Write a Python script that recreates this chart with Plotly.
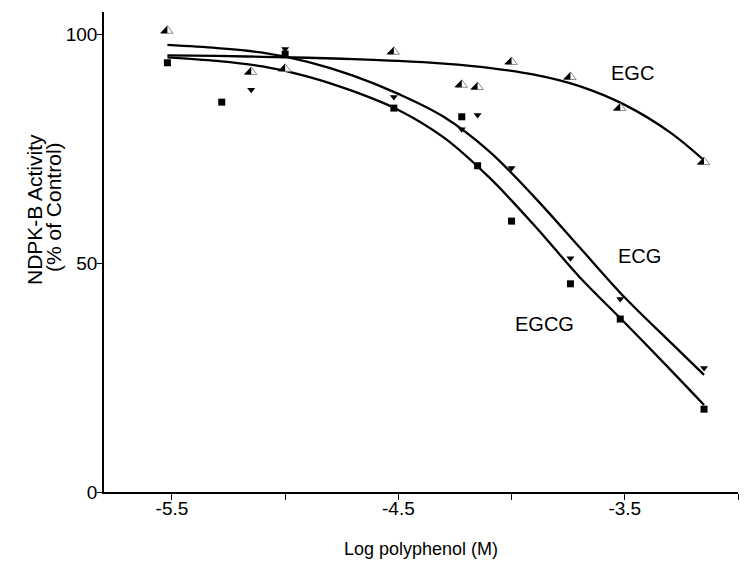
import plotly.graph_objects as go

# ---- data (log molar concentration vs. % of control) ----
egc_x = [-5.52, -5.15, -5.0, -4.52, -4.22, -4.15, -4.0, -3.74, -3.52, -3.15]
egc_y = [100.8, 91.8, 92.5, 96.2, 89.0, 88.5, 94.0, 90.7, 83.9, 72.1]

ecg_x = [-5.15, -5.0, -4.52, -4.22, -4.15, -4.0, -3.74, -3.52, -3.15]
ecg_y = [87.9, 96.8, 86.3, 79.3, 82.4, 70.8, 51.1, 42.2, 27.1]

egcg_x = [-5.52, -5.28, -5.0, -4.52, -4.22, -4.15, -4.0, -3.74, -3.52, -3.15]
egcg_y = [93.8, 85.2, 95.7, 83.9, 82.0, 71.3, 59.2, 45.5, 37.8, 18.1]

# fitted curves
fit_x = [-5.52, -5.3, -5.1, -4.9, -4.7, -4.5, -4.3, -4.1, -3.9, -3.7, -3.5, -3.3, -3.15]
egc_fit_y = [95.4, 95.3, 95.1, 94.9, 94.6, 94.2, 93.6, 92.7, 91.2, 88.7, 84.6, 78.6, 72.5]
ecg_fit_y = [97.7, 97.0, 96.0, 94.0, 91.0, 87.0, 82.0, 74.5, 64.5, 53.5, 42.5, 32.8, 25.6]
egcg_fit_y = [95.0, 94.2, 93.0, 90.8, 87.6, 83.5, 77.5, 68.8, 58.3, 47.0, 37.0, 26.8, 19.0]

x_tickvals = [-5.5, -5.0, -4.5, -4.0, -3.5, -3.0]
x_ticktext = ["-5.5", "", "-4.5", "", "-3.5", ""]
y_tickvals = [0, 50, 100]
y_ticktext = ["0", "50", "100"]

labels = ["EGC", "ECG", "EGCG"]
label_x = [-3.465, -3.434, -3.854]
label_y = [91.6, 51.6, 36.7]

FONT = "Liberation Sans, Arial, sans-serif"

fig = go.Figure()

line_style = dict(color="black", width=2.3, shape="spline", smoothing=1.0)
for fy in [egc_fit_y, ecg_fit_y, egcg_fit_y]:
    fig.add_trace(go.Scatter(x=fit_x, y=fy, mode="lines", line=line_style,
                             hoverinfo="skip", showlegend=False))

# EGCG squares
fig.add_trace(go.Scatter(x=egcg_x, y=egcg_y, mode="markers", showlegend=False,
                         marker=dict(symbol="square", size=7, color="black")))
# ECG down triangles
fig.add_trace(go.Scatter(x=ecg_x, y=ecg_y, mode="markers", showlegend=False,
                         marker=dict(symbol="triangle-down", size=7, color="black")))
# EGC half-filled triangles: white body with grey outline ...
fig.add_trace(go.Scatter(x=egc_x, y=egc_y, mode="markers", showlegend=False,
                         marker=dict(symbol="triangle-up", size=10, color="white",
                                     line=dict(color="#8a8a8a", width=1))))
# ... and black left half
fig.add_trace(go.Scatter(x=egc_x, y=egc_y, mode="markers", showlegend=False,
                         marker=dict(symbol="triangle-ne", size=8.3, color="black",
                                     angle=90, standoff=2.5,
                                     line=dict(width=0))))

for t, lx, ly in zip(labels, label_x, label_y):
    fig.add_annotation(x=lx, y=ly, xref="x", yref="y", text=t, showarrow=False,
                       font=dict(family=FONT, size=20, color="black"))

# the page body adds an 8px margin, so the figure is drawn 8px smaller
OFF = 8
W, H = 750 - OFF, 570 - OFF
L, R, T, B = 104 - OFF, 12, 12 - OFF, 78
pw, ph = W - L - R, H - T - B


def px_to_paper(px, py):
    return (px - OFF - L) / pw, (H - B - (py - OFF)) / ph


# y title (two lines, rotated)
for txt, cx, cy in [("NDPK-B Activity", 34, 210), ("(% of Control)", 53, 207)]:
    ax_, ay_ = px_to_paper(cx, cy)
    fig.add_annotation(x=ax_, y=ay_, xref="paper", yref="paper", text=txt,
                       xanchor="center", yanchor="middle",
                       showarrow=False, textangle=-90,
                       font=dict(family=FONT, size=21, color="black"))
# x title
ax_, ay_ = px_to_paper(421, 549)
fig.add_annotation(x=ax_, y=ay_, xref="paper", yref="paper", text="Log polyphenol (M)",
                   xanchor="center", yanchor="middle", showarrow=False,
                   font=dict(family=FONT, size=18, color="black"))

fig.update_layout(
    width=W, height=H,
    margin=dict(l=L, r=R, t=T, b=B),
    paper_bgcolor="white", plot_bgcolor="white",
    font=dict(family=FONT, size=19, color="black"),
    xaxis=dict(range=[-5.8, -3.0], tickvals=x_tickvals, ticktext=x_ticktext,
               showgrid=False, zeroline=False, showline=True, linecolor="black",
               linewidth=1.6, ticks="outside", ticklen=6, tickwidth=1.3,
               tickcolor="black", ticklabelstandoff=-8,
               tickfont=dict(family=FONT, size=19)),
    yaxis=dict(range=[0, 104.9], tickvals=y_tickvals, ticktext=y_ticktext,
               showgrid=False, zeroline=False, showline=True, linecolor="black",
               linewidth=1.6, ticks="outside", ticklen=5, tickwidth=1.3,
               tickcolor="black", ticklabelstandoff=-4,
               tickfont=dict(family=FONT, size=19)),
)

fig.write_html("out.html")
